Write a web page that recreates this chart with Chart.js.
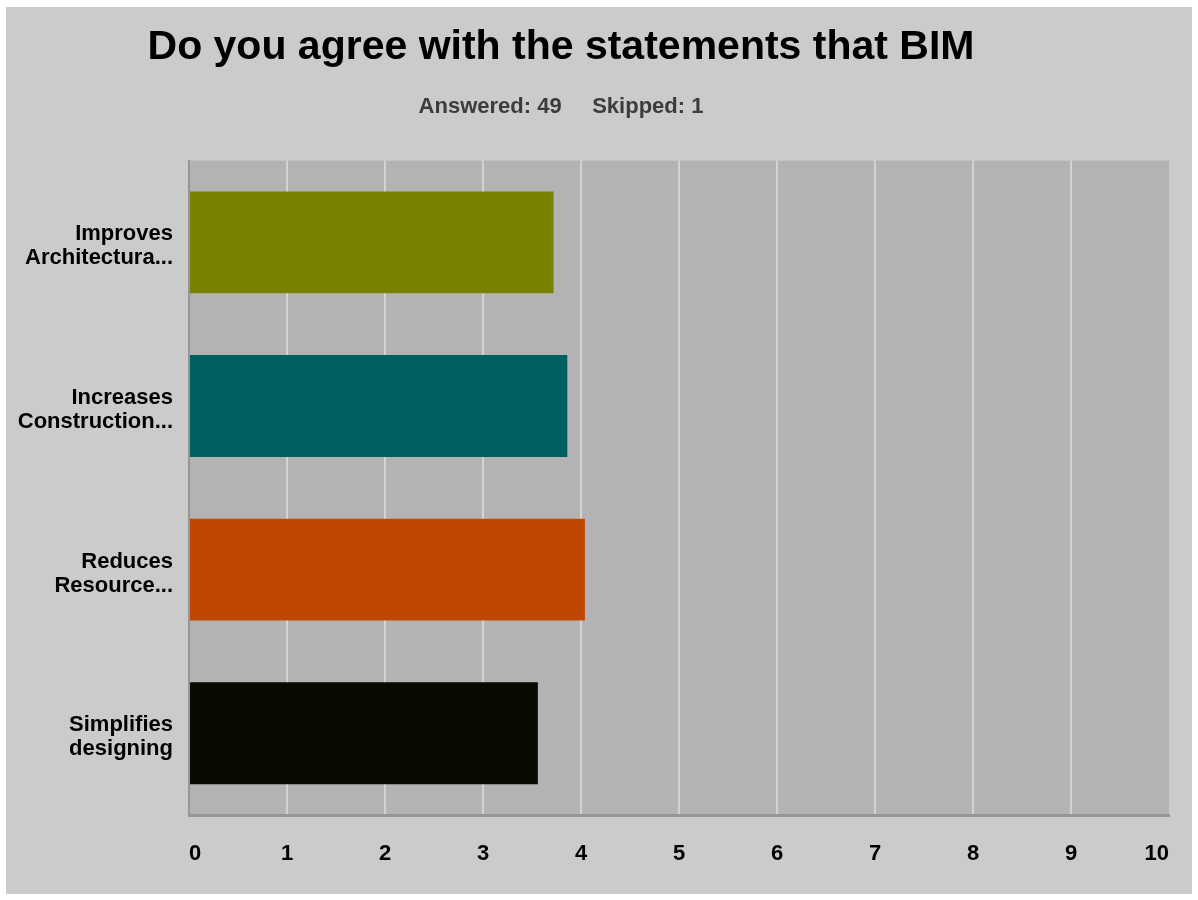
<!DOCTYPE html>
<html>
<head>
<meta charset="utf-8">
<title>Do you agree with the statements that BIM</title>
<script src="https://cdn.jsdelivr.net/npm/chart.js@4/dist/chart.umd.min.js"></script>
<style>
  html, body { margin: 0; padding: 0; background: #ffffff; }
  #frame {
    position: absolute;
    left: 6px;
    top: 7px;
    width: 1186px;
    height: 887px;
    background: #cbcbcb;
  }
  #chart { display: block; }
</style>
</head>
<body>
<div id="frame"><canvas id="chart" width="1186" height="887"></canvas></div>
<script>
// Survey question and response counts
const titleText = 'Do you agree with the statements that BIM';
const subtitleText = 'Answered: 49     Skipped: 1';

// Statements (truncated the way the survey tool shows them)
const categories = [
  ['Improves', 'Architectura...'],
  ['Increases', 'Construction...'],
  ['Reduces', 'Resource...'],
  ['Simplifies', 'designing']
];

// Weighted average agreement per statement
const averages = [3.72, 3.86, 4.04, 3.56];

// Horizontal axis range and ticks
const axisMin = 0;
const axisMax = 10;
const axisStep = 1;

const barColors = ['#7a8000', '#005f60', '#bf4800', '#0a0a00'];

const FONT = '"Liberation Sans", Arial, Helvetica, sans-serif';

// Shade the plotting area darker than the page
const plotBackground = {
  id: 'plotBackground',
  beforeDraw(chart, args, opts) {
    const { ctx, chartArea } = chart;
    ctx.save();
    ctx.fillStyle = opts.color;
    ctx.fillRect(chartArea.left, chartArea.top,
                 chartArea.right - chartArea.left, chartArea.bottom - chartArea.top);
    ctx.restore();
  }
};

// Centre the heading lines on a given x instead of the full canvas
const headerCentre = {
  id: 'headerCentre',
  afterLayout(chart, args, opts) {
    const texts = [titleText, subtitleText];
    chart.boxes.forEach(box => {
      if (box.options && texts.includes(box.options.text)) {
        box.left = 0;
        box.right = opts.centerX * 2;
        box.width = box.right;
      }
    });
  }
};

new Chart(document.getElementById('chart'), {
  type: 'bar',
  data: {
    labels: categories,
    datasets: [{
      data: averages,
      backgroundColor: barColors,
      borderWidth: 0,
      barPercentage: 0.623,
      categoryPercentage: 1.0
    }]
  },
  options: {
    indexAxis: 'y',
    responsive: false,
    animation: false,
    layout: { padding: { left: 0, right: 23, top: 0, bottom: 0 } },
    plugins: {
      legend: { display: false },
      tooltip: { enabled: false },
      title: {
        display: true,
        text: titleText,
        color: '#000000',
        font: { family: FONT, size: 41, weight: 'bold', lineHeight: 1.2 },
        padding: { top: 16, bottom: 0 }
      },
      subtitle: {
        display: true,
        text: subtitleText,
        color: '#3c3c3c',
        font: { family: FONT, size: 22, weight: 'bold', lineHeight: 1.2 },
        padding: { top: 22, bottom: 40 }
      },
      plotBackground: { color: '#b3b3b3' },
      headerCentre: { centerX: 555 }
    },
    scales: {
      x: {
        type: 'linear',
        min: axisMin,
        max: axisMax,
        afterFit(scale) {
          scale.height = 79;
          // end labels sit inside the plot, so no side room is needed
          scale.paddingLeft = 0;
          scale.paddingRight = 0;
        },
        ticks: {
          stepSize: axisStep,
          align: 'inner',
          padding: 26,
          color: '#000000',
          font: { family: FONT, size: 22, weight: 'bold', lineHeight: 1.2 }
        },
        grid: {
          drawTicks: false,
          lineWidth: 2,
          color: ctx => (ctx.tick && ctx.tick.value === axisMax) ? 'rgba(0,0,0,0)' : '#d3d3d3'
        },
        border: { display: true, color: '#969696', width: 3 }
      },
      y: {
        type: 'category',
        afterFit(scale) { scale.width = 183; },
        ticks: {
          padding: 16,
          labelOffset: 4,
          color: '#000000',
          font: { family: FONT, size: 22, weight: 'bold', lineHeight: 1.09 }
        },
        grid: { display: false, drawTicks: false },
        border: { display: true, color: '#969696', width: 2 }
      }
    }
  },
  plugins: [plotBackground, headerCentre]
});
</script>
</body>
</html>
